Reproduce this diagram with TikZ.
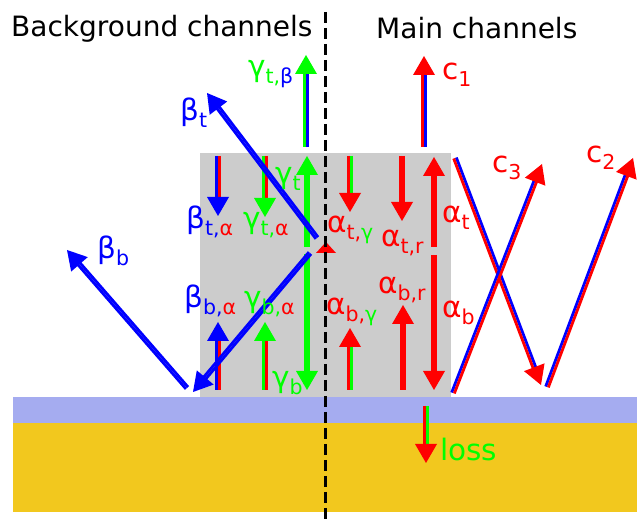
\documentclass[tikz,border=0pt]{standalone}
\usepackage{fontspec}
\setmainfont{DejaVu Sans}
\usetikzlibrary{calc}
\definecolor{rectgray}{RGB}{204,204,204}
\definecolor{bandblue}{RGB}{165,172,240}
\definecolor{goldband}{RGB}{242,200,30}
% #1 start, #2 tip, #3 colour left of travel, #4 colour right of travel, #5 head colour
\newcommand\chanarrow[5]{%
  \coordinate (hb) at ($(#2)!15pt!(#1)$);
  \coordinate (hh) at ($(#2)!19pt!(#1)$);
  \draw[stripe,#3] ($(#1)!1.4pt!90:(#2)$) -- ($(hb)!1.4pt!90:(#2)$);
  \draw[stripe,#4] ($(#1)!1.4pt!-90:(#2)$) -- ($(hb)!1.4pt!-90:(#2)$);
  \fill[#5] (#2) -- ($(hh)!11pt!90:(#2)$) -- ($(hh)!11pt!-90:(#2)$) -- cycle;
}
\newcommand\sub[1]{\raisebox{-7pt}{\fontsize{20.5}{20}\selectfont #1}}
\begin{document}
\begin{tikzpicture}[x=1pt,y=-1pt,
  stripe/.style={line width=2.8pt},
  ttl/.style={anchor=base west, inner sep=0pt, font=\fontsize{28}{34}\selectfont},
  lbl/.style={anchor=base west, inner sep=0pt, font=\fontsize{29.5}{34}\selectfont}]
\useasboundingbox (0,0) rectangle (638,521);
% layers
\fill[rectgray] (200,153) rectangle (451,397);
\fill[bandblue] (13,397) rectangle (637,423);
\fill[goldband] (13,423) rectangle (637,512);

% coordinates
\coordinate (gtbS) at (306,147);  \coordinate (gtbT) at (306,55);
\coordinate (c1S) at (424,147);   \coordinate (c1T) at (424,56);
\coordinate (btS) at (317,238);   \coordinate (btT) at (207,93);
\coordinate (bbS) at (187,388);   \coordinate (bbT) at (67,250);
\coordinate (brS) at (310,253);   \coordinate (brT) at (193,392);
\coordinate (gtS) at (307,247);   \coordinate (gtT) at (307,156);
\coordinate (gbS) at (307,254);   \coordinate (gbT) at (307,390);
\coordinate (btaS) at (218,156);  \coordinate (btaT) at (218,216);
\coordinate (gtaS) at (265,156);  \coordinate (gtaT) at (265,217);
\coordinate (bbaS) at (218,390);  \coordinate (bbaT) at (218,322);
\coordinate (gbaS) at (265,390);  \coordinate (gbaT) at (265,322);
\coordinate (atgS) at (350,156);  \coordinate (atgT) at (350,212);
\coordinate (atrS) at (402,156);  \coordinate (atrT) at (402,221);
\coordinate (atS) at (434,247);   \coordinate (atT) at (434,157);
\coordinate (abS) at (434,255);   \coordinate (abT) at (434,390);
\coordinate (abrS) at (403,390);  \coordinate (abrT) at (403,305);
\coordinate (abgS) at (350,390);  \coordinate (abgT) at (350,328);
\coordinate (xS) at (455,158);    \coordinate (xT) at (541,385);
\coordinate (c3S) at (453,393);   \coordinate (c3T) at (542,164);
\coordinate (c2S) at (547,387);   \coordinate (c2T) at (633,158);
\coordinate (lossS) at (426,406); \coordinate (lossT) at (426,463);
\coordinate (tri) at (326,242);

% vertical channels
\chanarrow{gtbS}{gtbT}{green}{blue}{green}
\chanarrow{c1S}{c1T}{red}{blue}{red}
\chanarrow{gtS}{gtT}{green}{green}{green}
\chanarrow{gbS}{gbT}{green}{green}{green}
\chanarrow{btaS}{btaT}{red}{blue}{blue}
\chanarrow{gtaS}{gtaT}{red}{green}{green}
\chanarrow{bbaS}{bbaT}{blue}{red}{blue}
\chanarrow{gbaS}{gbaT}{green}{red}{green}
\chanarrow{atgS}{atgT}{green}{red}{red}
\chanarrow{atrS}{atrT}{red}{red}{red}
\chanarrow{atS}{atT}{red}{red}{red}
\chanarrow{abS}{abT}{red}{red}{red}
\chanarrow{abrS}{abrT}{red}{red}{red}
\chanarrow{abgS}{abgT}{red}{green}{red}
\chanarrow{lossS}{lossT}{green}{red}{red}
\fill[red] (tri) -- ++(-10,11) -- ++(20,0) -- cycle;
% diagonal channels
\chanarrow{btS}{btT}{blue}{blue}{blue}
\chanarrow{bbS}{bbT}{blue}{blue}{blue}
\chanarrow{brS}{brT}{blue}{blue}{blue}
\chanarrow{xS}{xT}{blue}{red}{red}
\chanarrow{c3S}{c3T}{blue}{red}{red}
\chanarrow{c2S}{c2T}{blue}{red}{red}

% labels
\node[ttl] (tbg) at (11,37) {Background channels};
\node[ttl] (tmain) at (376,39) {Main channels};
\node[lbl] (lgtb) at (248,77) {\textcolor{green}{γ}\sub{\textcolor{green}{t,}\textcolor{blue}{β}}};
\node[lbl] (lc1) at (442,80) {\textcolor{red}{c}\sub{\textcolor{red}{1}}};
\node[lbl] (lbt) at (180,121) {\textcolor{blue}{β}\sub{\textcolor{blue}{t}}};
\node[lbl] (lbb) at (97,259) {\textcolor{blue}{β}\sub{\textcolor{blue}{b}}};
\node[lbl] (lbta) at (186,229) {\textcolor{blue}{β}\sub{\textcolor{blue}{t,}\textcolor{red}{α}}};
\node[lbl] (lgta) at (243,229) {\textcolor{green}{γ}\sub{\textcolor{green}{t,}\textcolor{red}{α}}};
\node[lbl] (lbba) at (184,308) {\textcolor{blue}{β}\sub{\textcolor{blue}{b,}\textcolor{red}{α}}};
\node[lbl] (lgba) at (244,308) {\textcolor{green}{γ}\sub{\textcolor{green}{b,}\textcolor{red}{α}}};
\node[lbl] (lgt) at (275,184) {\textcolor{green}{γ}\sub{\textcolor{green}{t}}};
\node[lbl] (lgb) at (272,388) {\textcolor{green}{γ}\sub{\textcolor{green}{b}}};
\node[lbl] (latg) at (327,233) {\textcolor{red}{α}\sub{\textcolor{red}{t,}\textcolor{green}{γ}}};
\node[lbl] (latr) at (381,247) {\textcolor{red}{α}\sub{\textcolor{red}{t,r}}};
\node[lbl] (labr) at (378,294) {\textcolor{red}{α}\sub{\textcolor{red}{b,r}}};
\node[lbl] (labg) at (326,315) {\textcolor{red}{α}\sub{\textcolor{red}{b,}\textcolor{green}{γ}}};
\node[lbl] (lat) at (442,223) {\textcolor{red}{α}\sub{\textcolor{red}{t}}};
\node[lbl] (lab) at (442,318) {\textcolor{red}{α}\sub{\textcolor{red}{b}}};
\node[lbl] (lc3) at (492,173) {\textcolor{red}{c}\sub{\textcolor{red}{3}}};
\node[lbl] (lc2) at (586,163) {\textcolor{red}{c}\sub{\textcolor{red}{2}}};
\node[lbl] (lloss) at (440,461) {\textcolor{green}{loss}};

% divider
\coordinate (dtop) at (325,12);
\coordinate (dbot) at (325,521);
\draw[black, line width=3pt, dash pattern=on 11pt off 5pt] (dtop) -- (dbot);
\end{tikzpicture}
\end{document}
